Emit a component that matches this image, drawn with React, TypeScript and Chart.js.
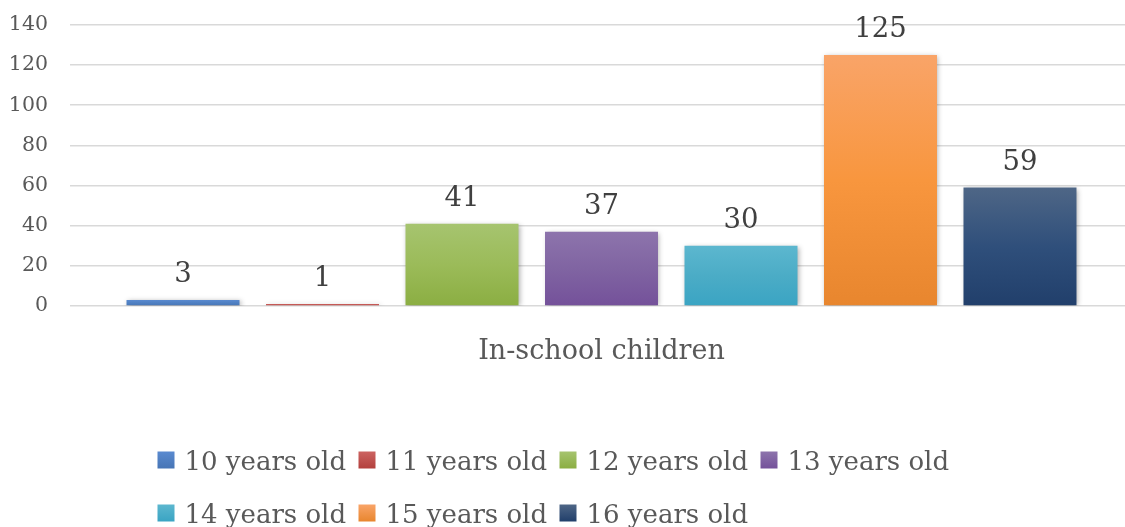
import React, { useEffect, useRef } from "react";
import { Chart, registerables } from "chart.js";

Chart.register(...registerables);

const categories = ["In-school children"];
const seriesLabels = [
  "10 years old",
  "11 years old",
  "12 years old",
  "13 years old",
  "14 years old",
  "15 years old",
  "16 years old",
];
const seriesValues = [3, 1, 41, 37, 30, 125, 59];
const yMin = 0;
const yMax = 140;
const yStep = 20;

const topColors = ["#5a8ad0", "#cc6361", "#a6c46f", "#8d74ac", "#5cb7cf", "#f9a468", "#4e6686"];
const midColors = ["#4f80c2", "#c0504d", "#9bbb59", "#8064a2", "#4bacc6", "#f8963e", "#2f4f7b"];
const bottomColors = ["#4775b5", "#b3403d", "#8bae42", "#74519a", "#3aa4c3", "#e8862e", "#213f6b"];

const FONT = "'DejaVu Serif', serif";

export default function App() {
  const canvasRef = useRef<HTMLCanvasElement | null>(null);

  useEffect(() => {
    const canvas = canvasRef.current;
    if (!canvas) return;

    const shadowPlugin = {
      id: "barShadow",
      beforeDatasetsDraw(chart: any) {
        const c = chart.ctx;
        c.save();
        c.shadowColor = "rgba(0,0,0,0.32)";
        c.shadowBlur = 5;
        c.shadowOffsetX = 1.5;
        c.shadowOffsetY = 1;
      },
      afterDatasetsDraw(chart: any) {
        chart.ctx.restore();
      },
    };

    const labelsPlugin = {
      id: "valueLabelsAndLegend",
      afterDraw(chart: any) {
        const c = chart.ctx;
        c.save();
        c.font = `27.5px ${FONT}`;
        c.fillStyle = "#404040";
        c.textAlign = "center";
        c.textBaseline = "alphabetic";
        chart.data.datasets.forEach((ds: any, i: number) => {
          const meta = chart.getDatasetMeta(i);
          meta.data.forEach((el: any, j: number) => {
            c.fillText(String(ds.data[j]), el.x, el.y - 18);
          });
        });

        // legend grid
        const cols = 4;
        const colW = 201;
        const box = 17;
        const x0 = chart.width / 2 - 2 * colW - 7;
        const rowCenters = [chart.height - 67, chart.height - 14];
        c.font = `26px ${FONT}`;
        c.textAlign = "left";
        c.textBaseline = "alphabetic";
        chart.data.datasets.forEach((ds: any, i: number) => {
          const col = i % cols;
          const row = Math.floor(i / cols);
          const bx = x0 + col * colW;
          const cy = rowCenters[row];
          const g = c.createLinearGradient(0, cy - box / 2, 0, cy + box / 2);
          g.addColorStop(0, topColors[i]);
          g.addColorStop(1, bottomColors[i]);
          c.fillStyle = g;
          c.fillRect(bx, cy - box / 2, box, box);
          c.fillStyle = "#595959";
          c.fillText(ds.label, bx + box + 10, cy + 10);
        });
        c.restore();
      },
    };

    const datasets = seriesLabels.map((label, i) => ({
      label,
      data: [seriesValues[i]],
      backgroundColor: (ctx: any) => {
        const chart = ctx.chart;
        const area = chart.chartArea;
        if (!area || ctx.type !== "data" || !chart.scales || !chart.scales.y) return midColors[i];
        const ys = chart.scales.y;
        const yTop = ys.getPixelForValue(ctx.raw);
        const yBot = ys.getPixelForValue(0);
        if (!isFinite(yTop) || !isFinite(yBot) || Math.abs(yBot - yTop) < 1) return midColors[i];
        const g = chart.ctx.createLinearGradient(0, yTop, 0, yBot);
        g.addColorStop(0, topColors[i]);
        g.addColorStop(0.5, midColors[i]);
        g.addColorStop(1, bottomColors[i]);
        return g;
      },
      borderWidth: 0,
      categoryPercentage: 0.9186,
      barPercentage: 0.81,
    }));

    const chart = new Chart(canvas, {
      type: "bar",
      data: { labels: categories, datasets },
      options: {
        responsive: true,
        maintainAspectRatio: false,
        animation: false,
        layout: { padding: { top: 25, right: 0, bottom: 161, left: 0 } },
        plugins: {
          legend: { display: false },
          tooltip: { enabled: false },
          title: { display: false },
        },
        scales: {
          x: {
            grid: { display: false, drawTicks: false },
            border: { display: false },
            ticks: {
              color: "#595959",
              font: { family: FONT, size: 27 },
              padding: 30,
            },
            afterFit(scale: any) {
              scale.height = 60;
            },
          },
          y: {
            min: yMin,
            max: yMax,
            ticks: {
              stepSize: yStep,
              color: "#595959",
              font: { family: FONT, size: 20.5 },
              padding: 22,
            },
            grid: { color: "#d9d9d9", lineWidth: 1.6, drawTicks: false },
            border: { display: false },
            afterFit(scale: any) {
              scale.width = 70;
              scale.paddingTop = 0;
              scale.paddingBottom = 0;
            },
          },
        },
      },
      plugins: [shadowPlugin, labelsPlugin],
    });

    return () => chart.destroy();
  }, []);

  return (
    <div style={{ position: "absolute", left: 0, top: 0, width: 1125, height: 527, overflow: "hidden", background: "#fff" }}>
      <div style={{ position: "relative", width: 1133, height: 527 }}>
        <canvas ref={canvasRef} />
      </div>
    </div>
  );
}
